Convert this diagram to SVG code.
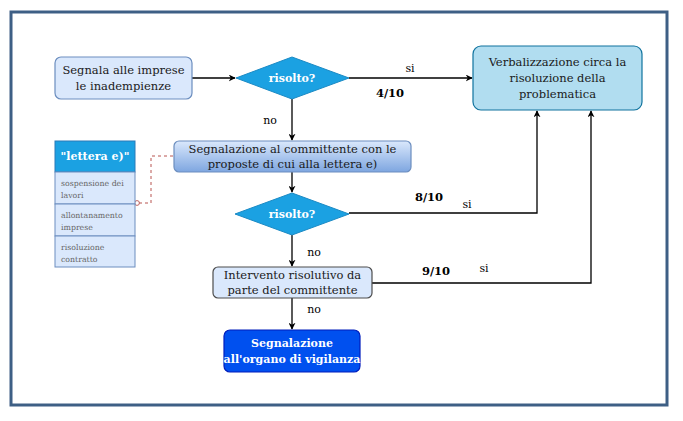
<svg xmlns="http://www.w3.org/2000/svg" width="683" height="421" viewBox="0 0 683 421" font-family="'DejaVu Serif', serif">
<defs>
<linearGradient id="g2" x1="0" y1="0" x2="0" y2="1">
<stop offset="0" stop-color="#dae8fc"/>
<stop offset="1" stop-color="#7ea6e0"/>
</linearGradient>
<marker id="arr" viewBox="0 0 10 10" refX="9" refY="5" markerWidth="7" markerHeight="7" orient="auto" markerUnits="userSpaceOnUse">
<path d="M0,0 L10,5 L0,10 L3,5 Z" fill="#000"/>
</marker>
<marker id="circ" viewBox="0 0 10 10" refX="5" refY="5" markerWidth="6" markerHeight="6" markerUnits="userSpaceOnUse">
<circle cx="5" cy="5" r="4" fill="#fff" stroke="#b85450" stroke-width="1.5"/>
</marker>
</defs>
<style>
text{font-family:'DejaVu Serif',serif;}
.t{font-size:11.5px;fill:#1a1a1a;text-anchor:middle;}
.w{font-size:11px;fill:#fff;font-weight:bold;text-anchor:middle;}
.lbl{font-size:11px;fill:#000;text-anchor:middle;}
.num{font-size:11.5px;fill:#000;font-weight:bold;text-anchor:middle;}
.sm{font-size:7.8px;fill:#666;}
.ln{fill:none;stroke:#000;stroke-width:1.3;}
.dash{fill:none;stroke:#b85450;stroke-width:1;stroke-dasharray:3,3;}
</style>
<rect width="683" height="421" fill="#fff"/>
<rect x="11" y="12" width="656" height="393" fill="none" stroke="#3e5f85" stroke-width="3"/>

<g id="connectors">
<path class="ln" d="M192,78 L235,78" marker-end="url(#arr)"/>
<path class="ln" d="M349,78 L472,78" marker-end="url(#arr)"/>
<path class="ln" d="M292,99 L292,140" marker-end="url(#arr)"/>
<path class="ln" d="M292,172 L292,192" marker-end="url(#arr)"/>
<path class="ln" d="M349,213 L537,213 L537,111" marker-end="url(#arr)"/>
<path class="ln" d="M292,235 L292,266" marker-end="url(#arr)"/>
<path class="ln" d="M372,283 L591,283 L591,111" marker-end="url(#arr)"/>
<path class="ln" d="M292,298 L292,329" marker-end="url(#arr)"/>
<path class="dash" d="M173,156 L151,156 L151,203 L137,203" marker-end="url(#circ)"/>
<text class="lbl" x="410" y="72">si</text>
<text class="num" x="390" y="97">4/10</text>
<text class="lbl" x="270" y="124">no</text>
<text class="num" x="429" y="201">8/10</text>
<text class="lbl" x="467" y="208">si</text>
<text class="lbl" x="314" y="256">no</text>
<text class="num" x="436" y="275">9/10</text>
<text class="lbl" x="484" y="272">si</text>
<text class="lbl" x="314" y="313">no</text>
</g>

<g id="n1">
<rect x="55" y="57" width="137" height="42" rx="6" fill="#dae8fc" stroke="#6c8ebf" stroke-width="1.2"/>
<text class="t" x="123.5" y="74">Segnala alle imprese</text>
<text class="t" x="123.5" y="90">le inadempienze</text>
</g>

<g id="d1">
<polygon points="236,78 292,57 349,78 292,99" fill="#1ba1e2" stroke="#1b8ac4" stroke-width="1"/>
<text class="w" x="292" y="82">risolto?</text>
</g>

<g id="verb">
<rect x="473" y="46" width="169" height="64" rx="8" fill="#b1ddf0" stroke="#10739e" stroke-width="1.2"/>
<text class="t" x="557.5" y="66">Verbalizzazione circa la</text>
<text class="t" x="557.5" y="82">risoluzione della</text>
<text class="t" x="557.5" y="98">problematica</text>
</g>

<g id="n2">
<rect x="174" y="141" width="237" height="31" rx="5" fill="url(#g2)" stroke="#6c8ebf" stroke-width="1.2"/>
<text class="t" x="292.5" y="153">Segnalazione al committente con le</text>
<text class="t" x="292.5" y="168">proposte di cui alla lettera e)</text>
</g>

<g id="lettera">
<rect x="55" y="141" width="80" height="31" fill="#1ba1e2" stroke="#2a7ab8" stroke-width="1"/>
<text class="w" x="95" y="160">"lettera e)"</text>
<rect x="55" y="172" width="80" height="32" fill="#dae8fc" stroke="#6c8ebf" stroke-width="1"/>
<rect x="55" y="204" width="80" height="32" fill="#dae8fc" stroke="#6c8ebf" stroke-width="1"/>
<rect x="55" y="236" width="80" height="31" fill="#dae8fc" stroke="#6c8ebf" stroke-width="1"/>
<text class="sm" x="61" y="186">sospensione dei</text>
<text class="sm" x="61" y="198">lavori</text>
<text class="sm" x="61" y="218">allontanamento</text>
<text class="sm" x="61" y="230">imprese</text>
<text class="sm" x="61" y="250">risoluzione</text>
<text class="sm" x="61" y="262">contratto</text>
</g>

<g id="d2">
<polygon points="235,214 292,193 349,214 292,235" fill="#1ba1e2" stroke="#1b8ac4" stroke-width="1"/>
<text class="w" x="292" y="218">risolto?</text>
</g>

<g id="n3">
<rect x="213" y="267" width="159" height="31" rx="5" fill="#dae8fc" stroke="#4d4d4d" stroke-width="1.2"/>
<text class="t" x="292.5" y="279">Intervento risolutivo da</text>
<text class="t" x="292.5" y="294">parte del committente</text>
</g>

<g id="n4">
<rect x="224" y="330" width="136" height="42" rx="6" fill="#0050ef" stroke="#001dbc" stroke-width="1.2"/>
<text class="w" x="292" y="347">Segnalazione</text>
<text class="w" x="292" y="363">all'organo di vigilanza</text>
</g>
</svg>
